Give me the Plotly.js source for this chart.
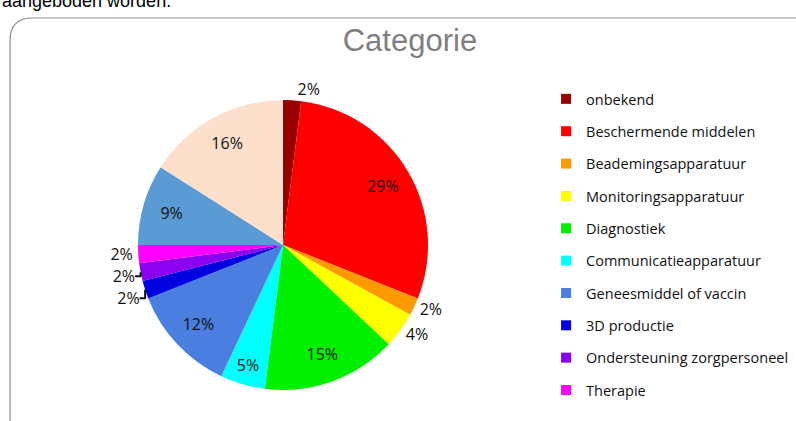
<!DOCTYPE html>
<html>
<head>
<meta charset="utf-8">
<script src="https://cdn.plot.ly/plotly-3.0.1.min.js"></script>
<style>html,body{margin:0;padding:0;background:#fff;}#chart{width:796px;height:421px;}</style>
</head>
<body>
<div id="chart"></div>
<script>
// Slices in drawing order (clockwise from 12 o'clock)
const categories = [
  "onbekend",
  "Beschermende middelen",
  "Beademingsapparatuur",
  "Monitoringsapparatuur",
  "Diagnostiek",
  "Communicatieapparatuur",
  "Geneesmiddel of vaccin",
  "3D productie",
  "Ondersteuning zorgpersoneel",
  "Therapie",
  "Overig (niet in legenda) A",
  "Overig (niet in legenda) B"
];
const percentages = [2, 29, 2, 4, 15, 5, 12, 2, 2, 2, 9, 16];
const colors = ["#990000", "#FF0000", "#FF9900", "#FFFF00", "#00F000", "#00FFFF",
                "#4A7FE0", "#0000E0", "#8C00F0", "#FF00FF", "#5B9BD5", "#FDE0CC"];
// The legend of the reference only lists the first ten categories
const legendCount = 10;

const FONT = "Open Sans, Liberation Sans, Arial, sans-serif";
const pieDomain = {x: [0.1734, 0.5377], y: [0.0736, 0.7625]};

// Coloured slices (no text)
const pie = {
  type: "pie",
  labels: categories,
  values: percentages,
  sort: false,
  direction: "clockwise",
  rotation: 0,
  showlegend: false,
  marker: {colors: colors, line: {width: 0}},
  textinfo: "none",
  hoverinfo: "label+percent",
  domain: pieDomain
};

// Same slices, transparent, as a ring: places the data labels toward the rim like the reference
const labelRing = {
  type: "pie",
  labels: categories,
  values: percentages,
  sort: false,
  direction: "clockwise",
  rotation: 0,
  hole: 0.6,
  showlegend: false,
  marker: {colors: categories.map(() => "rgba(0,0,0,0)"), line: {width: 0}},
  texttemplate: "%{value}%",
  textposition: percentages.map(v => v < 5 ? "outside" : "inside"),
  insidetextorientation: "horizontal",
  textfont: {family: FONT, size: 16, color: "#111111"},
  outsidetextfont: {family: FONT, size: 16, color: "#111111"},
  hoverinfo: "skip",
  domain: pieDomain
};

const legendTraces = categories.slice(0, legendCount).map((name, i) => ({
  type: "scatter",
  mode: "markers",
  x: [null], y: [null],
  name: name,
  legendgroup: "g" + i,
  marker: {symbol: "square", size: 10, color: colors[i]},
  hoverinfo: "skip"
}));

const layout = {
  width: 796, height: 421,
  margin: {l: 0, r: 0, t: 0, b: 0},
  paper_bgcolor: "#ffffff",
  plot_bgcolor: "#ffffff",
  title: {
    text: "Categorie",
    x: 0.515, xanchor: "center",
    y: 0.905, yanchor: "middle",
    font: {family: "Liberation Sans, Arial, sans-serif", size: 31, color: "#7f7f7f"}
  },
  xaxis: {visible: false, range: [0, 1]},
  yaxis: {visible: false, range: [0, 1]},
  showlegend: true,
  legend: {
    x: 0.686, xanchor: "left",
    y: 0.803, yanchor: "top",
    traceorder: "grouped",
    tracegroupgap: 10.5,
    itemwidth: 30,
    font: {family: FONT, size: 14.5, color: "#111111"},
    bgcolor: "rgba(0,0,0,0)"
  },
  shapes: [{
    type: "path", xref: "paper", yref: "paper",
    path: "M 0.0126,0 L 0.0126,0.9027 Q 0.0126,0.9572 0.0402,0.9572 L 1.01,0.9572",
    line: {color: "#8c8c8c", width: 1.2}
  }],
  annotations: [{
    text: "aangeboden worden.",
    xref: "paper", yref: "paper",
    x: 0.0, xanchor: "left",
    y: 1.0, yanchor: "middle",
    yshift: -1,
    showarrow: false,
    font: {family: "Liberation Sans, Arial, sans-serif", size: 18, color: "#000"}
  }]
};

Plotly.newPlot("chart", [pie, labelRing].concat(legendTraces), layout, {staticPlot: true, displayModeBar: false});
</script>
</body>
</html>
